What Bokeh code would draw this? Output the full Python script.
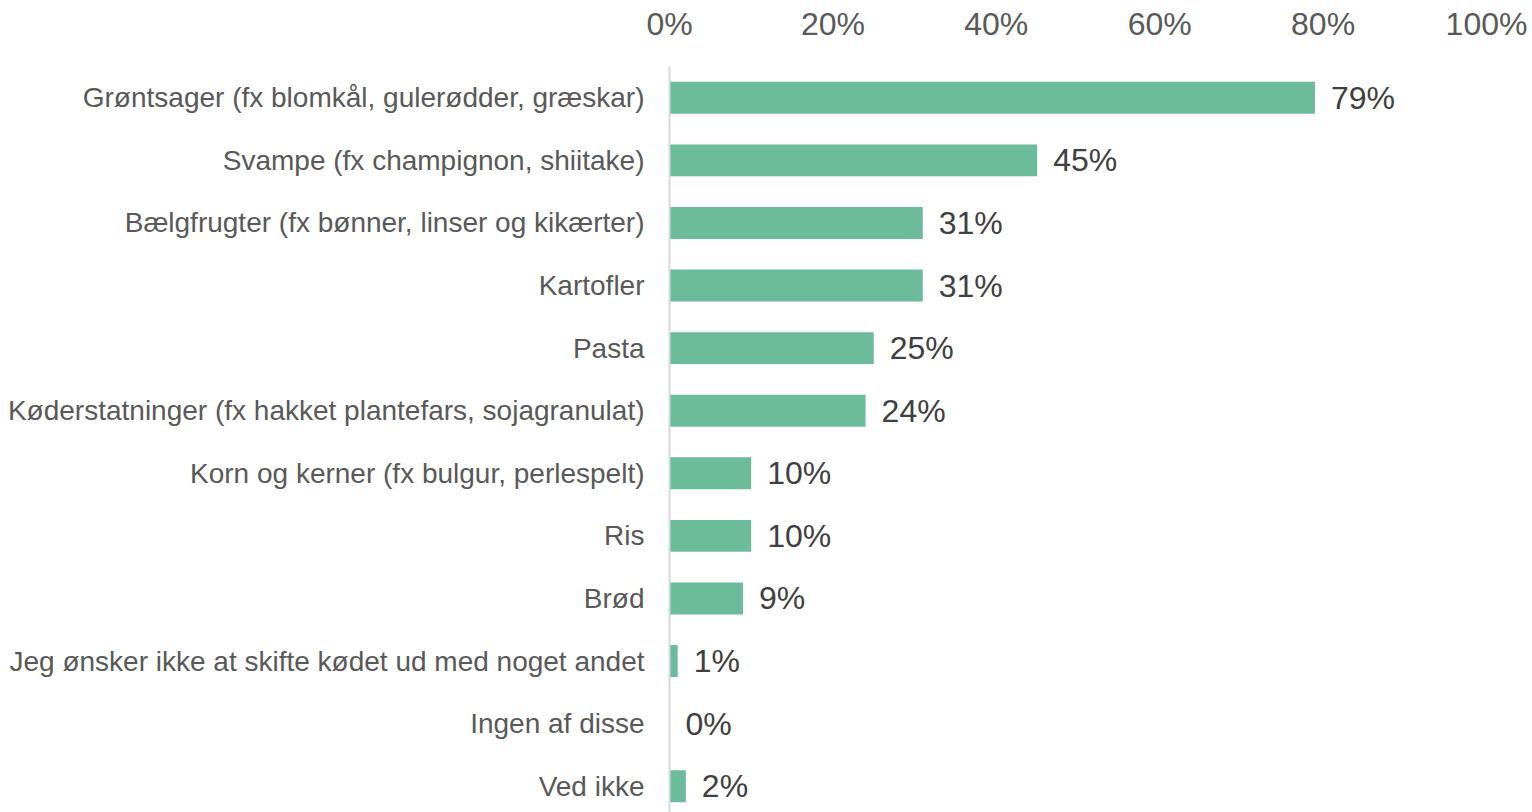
from bokeh.plotting import figure
from bokeh.models import Range1d, FixedTicker, ColumnDataSource
from bokeh.core.properties import value
from bokeh.embed import file_html
from bokeh.resources import INLINE

categories = [
    "Grøntsager (fx blomkål, gulerødder, græskar)",
    "Svampe (fx champignon, shiitake)",
    "Bælgfrugter (fx bønner, linser og kikærter)",
    "Kartofler",
    "Pasta",
    "Køderstatninger (fx hakket plantefars, sojagranulat)",
    "Korn og kerner (fx bulgur, perlespelt)",
    "Ris",
    "Brød",
    "Jeg ønsker ikke at skifte kødet ud med noget andet",
    "Ingen af disse",
    "Ved ikke",
]
values = [79, 45, 31, 31, 25, 24, 10, 10, 9, 1, 0, 2]
x_ticks = [0, 20, 40, 60, 80, 100]

pos = list(range(len(categories)))
src = ColumnDataSource(dict(
    y=pos, v=values, lab=[f"{v}%" for v in values], cat=categories,
))

FONT = "Liberation Sans"

p = figure(
    width=1532, height=812,
    x_range=Range1d(0, 100), y_range=Range1d(11.42, -0.5),
    x_axis_location="above",
    output_backend="svg", toolbar_location=None,
    min_border_left=669, min_border_right=46, min_border_top=66, min_border_bottom=0,
)
p.outline_line_color = None
p.xgrid.grid_line_color = None
p.ygrid.grid_line_color = None

p.hbar(y="y", right="v", left=0, height=0.51, source=src,
       fill_color="#6CBB9A", line_color=None)

p.text(x="v", y="y", text="lab", source=src, x_offset=16,
       text_baseline="middle", text_align="left",
       text_font=value(FONT), text_font_size="32px", text_color="#404040")

xa = p.xaxis[0]
xa.ticker = FixedTicker(ticks=x_ticks)
xa.major_label_overrides = {t: f"{t}%" for t in x_ticks}
xa.axis_line_color = None
xa.major_tick_line_color = None
xa.major_tick_out = 0
xa.major_tick_in = 0
xa.minor_tick_line_color = None
xa.major_label_text_font = FONT
xa.major_label_text_font_size = "32px"
xa.major_label_text_color = "#595959"
xa.major_label_standoff = 25

ya = p.yaxis[0]
ya.ticker = FixedTicker(ticks=pos)
ya.major_label_overrides = {i: c for i, c in zip(pos, categories)}
ya.axis_line_color = "#D9D9D9"
ya.axis_line_width = 2
ya.major_tick_line_color = None
ya.major_tick_out = 0
ya.major_tick_in = 0
ya.minor_tick_line_color = None
ya.major_label_text_font = FONT
ya.major_label_text_font_size = "28px"
ya.major_label_text_color = "#595959"
ya.major_label_standoff = 25

open("out.html", "w").write(file_html(p, INLINE))
